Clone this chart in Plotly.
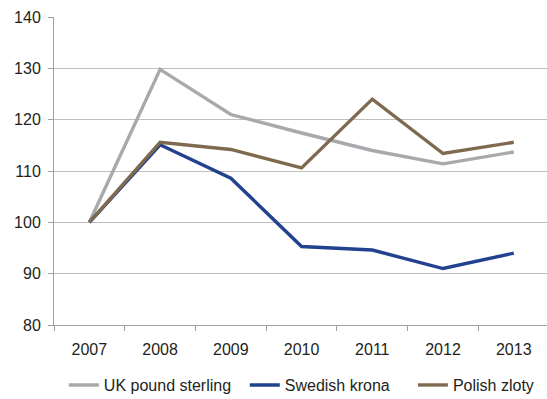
import plotly.graph_objects as go

years = ["2007", "2008", "2009", "2010", "2011", "2012", "2013"]
uk_pound = [100, 129.8, 121.0, 117.4, 114.0, 111.4, 113.7]
swedish_krona = [100, 115.1, 108.6, 95.3, 94.6, 91.0, 94.0]
polish_zloty = [100, 115.6, 114.2, 110.6, 124.0, 113.4, 115.6]

series = [
    ("UK pound sterling", uk_pound, "#A7A9AC", "legend", 0.020),
    ("Swedish krona", swedish_krona, "#22418F", "legend2", 0.387),
    ("Polish zloty", polish_zloty, "#7F6A4F", "legend3", 0.728),
]

font_family = "Liberation Sans, Arial, sans-serif"
legend_y = -0.195

fig = go.Figure()
legends = {}
for name, values, color, legend_id, lx in series:
    fig.add_trace(go.Scatter(
        x=years, y=values, name=name, mode="lines",
        line=dict(color=color, width=3.4), legend=legend_id,
    ))
    legends[legend_id] = dict(
        orientation="h", x=lx, xanchor="left", y=legend_y, yanchor="middle",
        font=dict(size=16), itemwidth=30, bgcolor="rgba(0,0,0,0)",
    )

fig.update_layout(
    width=547, height=399,
    margin=dict(l=54, r=0, t=17, b=74, autoexpand=False),
    paper_bgcolor="white", plot_bgcolor="white",
    font=dict(family=font_family, size=16, color="#231F20"),
    showlegend=True,
    xaxis=dict(
        type="category", range=[-0.5, 6.47], automargin=False,
        showgrid=False, showline=True, linecolor="#A0A0A0", linewidth=1,
        ticks="outside", ticklen=5, tickcolor="#A0A0A0",
        tickson="boundaries", ticklabelstandoff=10,
    ),
    yaxis=dict(
        range=[80, 140], dtick=10, showgrid=True, gridcolor="#BEBEBE", gridwidth=1,
        showline=True, linecolor="#A0A0A0", linewidth=1, automargin=False,
        ticks="outside", ticklen=5, tickcolor="#A0A0A0",
        zeroline=False, ticklabelstandoff=4,
    ),
    **legends,
)

fig.write_html("out.html")
